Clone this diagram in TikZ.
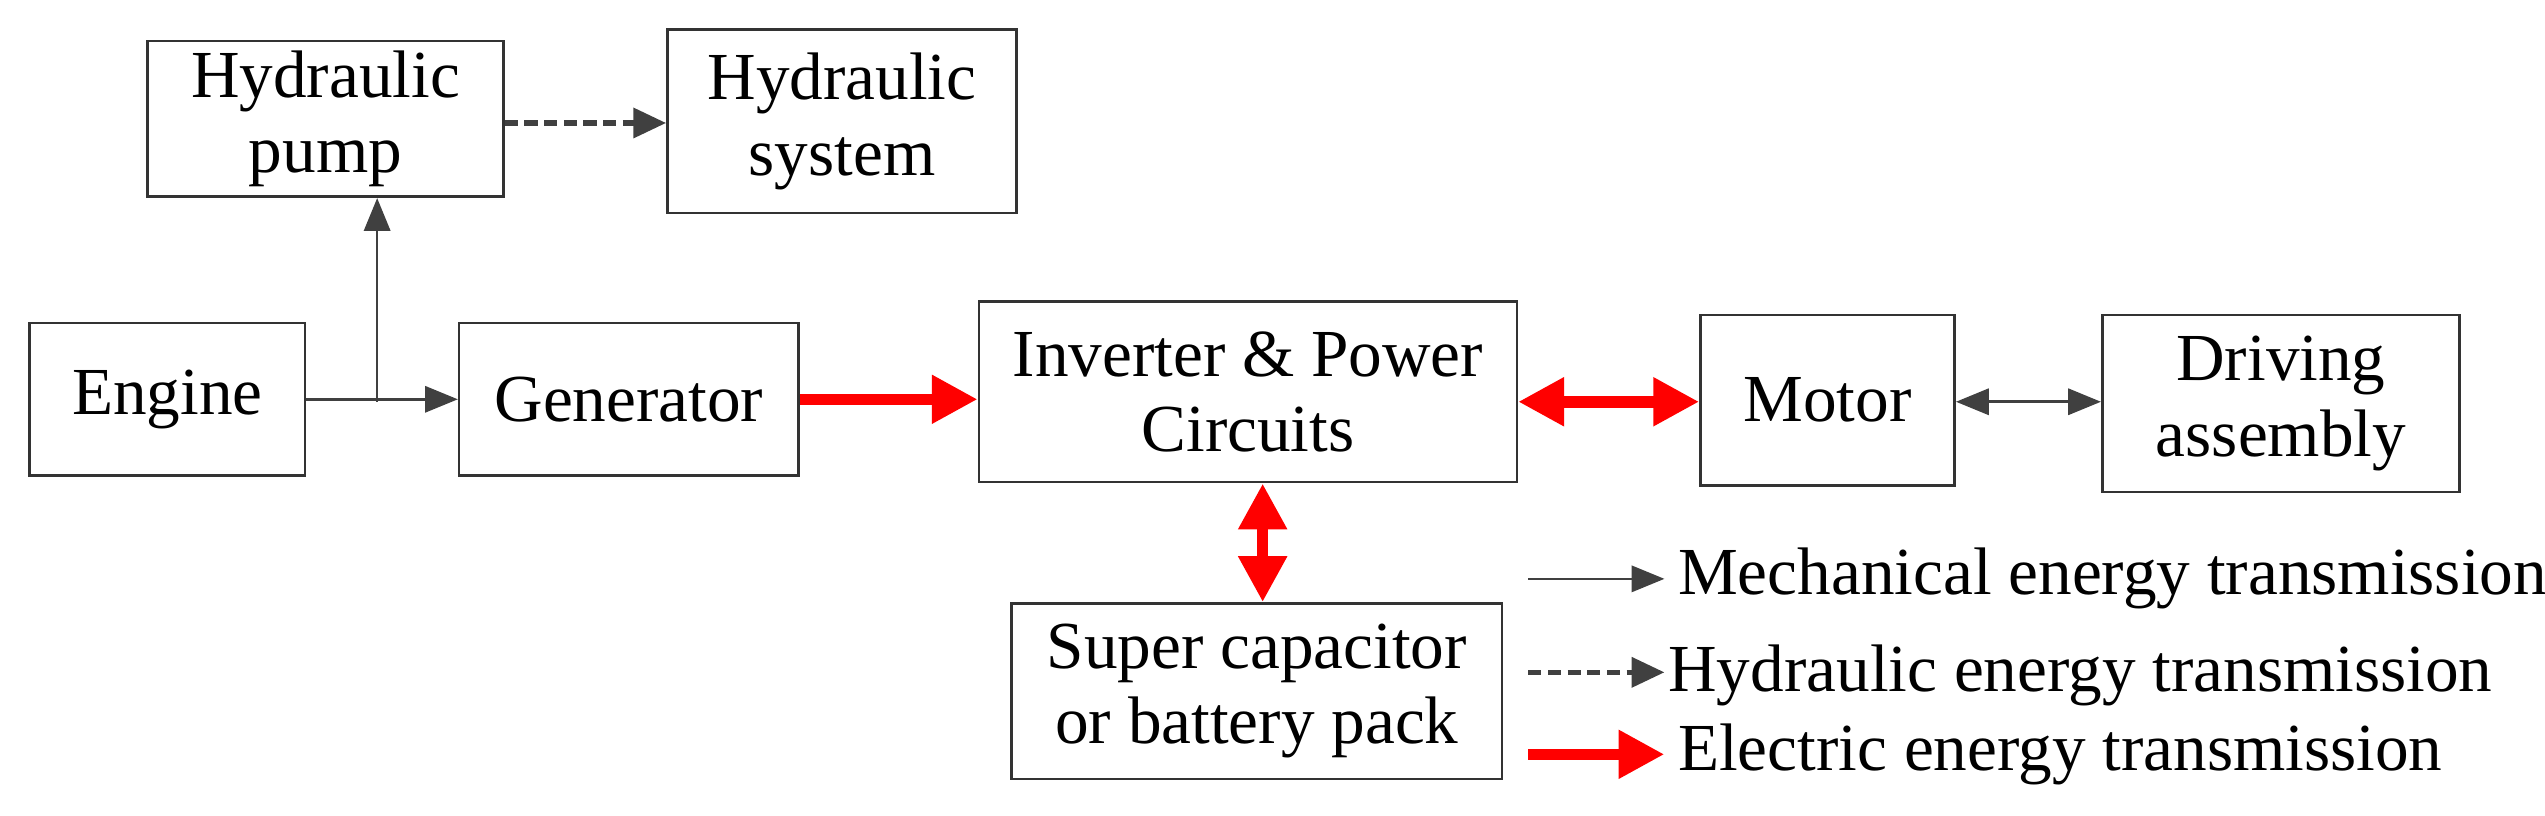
\documentclass[tikz,border=0pt]{standalone}
\usepackage{fontspec}
\setmainfont{Liberation Serif}
\usetikzlibrary{arrows.meta}
\begin{document}
\begin{tikzpicture}[x=0.5pt,y=-0.5pt,
  box/.style={draw=black!80,line width=0.8pt,align=center,font=\fontsize{20.5}{23}\selectfont,inner sep=0pt},
  mech/.style={draw=black!75,line width=0.8pt,-{Triangle[length=10pt,width=8pt]}},
  hyd/.style={draw=black!75,line width=1.6pt,dash pattern=on 4pt off 2pt,-{Triangle[length=10pt,width=9pt]}},
  ele/.style={draw=red,line width=3.5pt,-{Triangle[length=14pt,width=14pt]}},
  lab/.style={anchor=west,font=\fontsize{20.5}{23}\selectfont,inner sep=0pt}]
\useasboundingbox (0,0) rectangle (1552,497.6);
\node[box,minimum width=108.5pt,minimum height=47.5pt] (pump) at (198.5,72.5) {Hydraulic\\pump};
\node[box,minimum width=106.5pt,minimum height=56pt] (sys) at (513.5,74) {Hydraulic\\system};
\node[box,minimum width=84pt,minimum height=46.5pt] (eng) at (102,243.5) {Engine};
\node[box,minimum width=103.5pt,minimum height=46.5pt] (gen) at (383.5,243.5) {Generator};
\node[box,minimum width=164pt,minimum height=55pt] (inv) at (761,239) {Inverter \& Power\\Circuits};
\node[box,minimum width=77.5pt,minimum height=52pt] (mot) at (1114.5,244) {Motor};
\node[box,minimum width=109pt,minimum height=54pt] (drv) at (1391,246) {Driving\\assembly};
\node[box,minimum width=149.5pt,minimum height=53.5pt] (cap) at (766.5,421.5) {Super capacitor\\or battery pack};
\coordinate (br) at (230,245);
\draw[mech] (eng.east) -- (gen.west);
\draw[mech] (br) -- (br|-pump.south);
\draw[hyd] (pump.east|-0,75) -- (sys.west|-0,75);
\draw[ele] (gen.east) -- (inv.west|-gen.east);
\draw[ele,{Triangle[length=14pt,width=14pt]}-{Triangle[length=14pt,width=14pt]}] (inv.east|-0,245) -- (mot.west|-0,245);
\draw[mech,{Triangle[length=10pt,width=8pt]}-{Triangle[length=10pt,width=8pt]}] (mot.east|-0,245) -- (drv.west|-0,245);
\draw[ele,{Triangle[length=14pt,width=14pt]}-{Triangle[length=14pt,width=14pt]}] (inv.south-|770,0) -- (cap.north-|770,0);
\coordinate (l1) at (932,353); \coordinate (l1e) at (1015,353);
\coordinate (l2) at (932,410); \coordinate (l2e) at (1015,410);
\coordinate (l3) at (932,460); \coordinate (l3e) at (1015,460);
\draw[mech] (l1) -- (l1e);
\draw[hyd] (l2) -- (l2e);
\draw[ele] (l3) -- (l3e);
\node[lab] (t1) at (1023,353) {Mechanical energy transmission};
\node[lab] (t2) at (1017,412) {Hydraulic energy transmission};
\node[lab] (t3) at (1023,460) {Electric energy transmission};
\end{tikzpicture}
\end{document}
